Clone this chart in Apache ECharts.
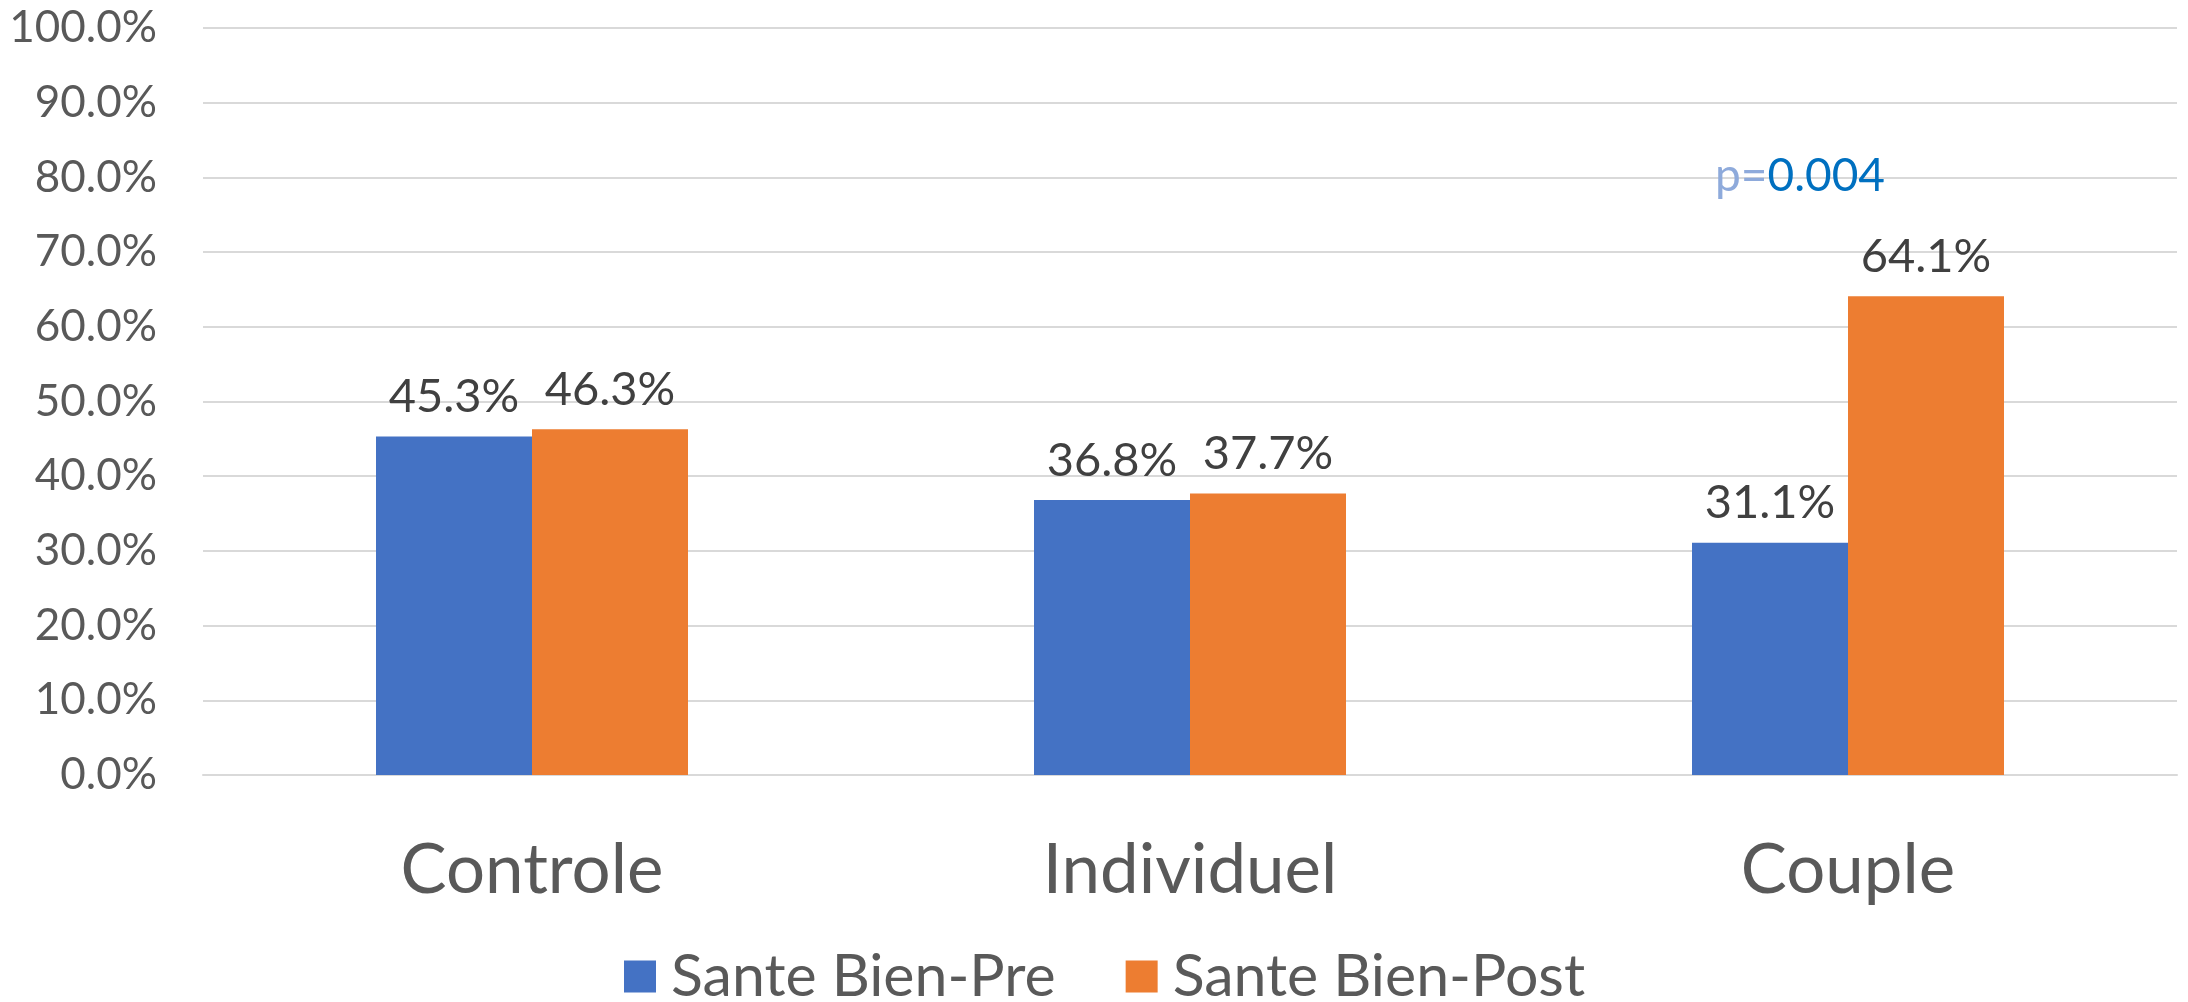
<!DOCTYPE html>
<html>
<head>
<meta charset="utf-8">
<script src="https://cdn.jsdelivr.net/npm/echarts@6/dist/echarts.min.js"></script>
<style>
  html, body { margin: 0; padding: 0; background: #fff; }
  #main { width: 2188px; height: 1002px; }
</style>
</head>
<body>
<div id="main"></div>
<script>
// data
var categories = ['Controle', 'Individuel', 'Couple'];
var preValues = [45.3, 36.8, 31.1];
var postValues = [46.3, 37.7, 64.1];
var seriesNames = ['Sante Bien-Pre', 'Sante Bien-Post'];

var font = 'Lato';

var myChart = echarts.init(document.getElementById('main'));
var labelStyle = {
    show: true,
    position: 'top',
    distance: 16,
    fontFamily: font,
    fontSize: 47,
    color: '#404040',
    formatter: function (p) { return p.value.toFixed(1) + '%'; }
};
var option = {
    animation: false,
    backgroundColor: '#fff',
    grid: { left: 203, right: 11, top: 28, bottom: 227 },
    legend: {
        left: 624,
        top: 947,
        padding: 0,
        itemWidth: 32,
        itemHeight: 32,
        itemGap: 70,
        icon: 'rect',
        textStyle: { fontFamily: font, fontSize: 59, color: '#595959', padding: [0, 0, 0, 10] },
        data: seriesNames
    },
    xAxis: {
        type: 'category',
        data: categories,
        axisLine: { show: true, lineStyle: { color: '#D9D9D9', width: 2 } },
        axisTick: { show: false },
        axisLabel: { fontFamily: font, fontSize: 69, color: '#595959', margin: 61, lineHeight: 69 }
    },
    yAxis: {
        type: 'value',
        min: 0,
        max: 100,
        interval: 10,
        axisLine: { show: false },
        axisTick: { show: false },
        splitLine: { lineStyle: { color: '#D9D9D9', width: 2 } },
        axisLabel: {
            fontFamily: font, fontSize: 44, color: '#595959', margin: 46,
            formatter: function (v) { return v.toFixed(1) + '%'; }
        }
    },
    series: [
        {
            name: seriesNames[0],
            type: 'bar',
            data: preValues,
            barWidth: 156,
            barGap: '0%',
            itemStyle: { color: '#4472C4' },
            label: labelStyle
        },
        {
            name: seriesNames[1],
            type: 'bar',
            data: postValues,
            barWidth: 156,
            barGap: '0%',
            itemStyle: { color: '#ED7D31' },
            label: labelStyle
        }
    ],
    graphic: [
        {
            type: 'text',
            left: 1715,
            top: 153,
            z: 100,
            style: {
                text: '{a|p=}{b|0.004}',
                rich: {
                    a: { fontFamily: font, fontSize: 46, fill: '#8EAADB' },
                    b: { fontFamily: font, fontSize: 46, fill: '#0070C0' }
                }
            }
        }
    ]
};
myChart.setOption(option);
</script>
</body>
</html>
